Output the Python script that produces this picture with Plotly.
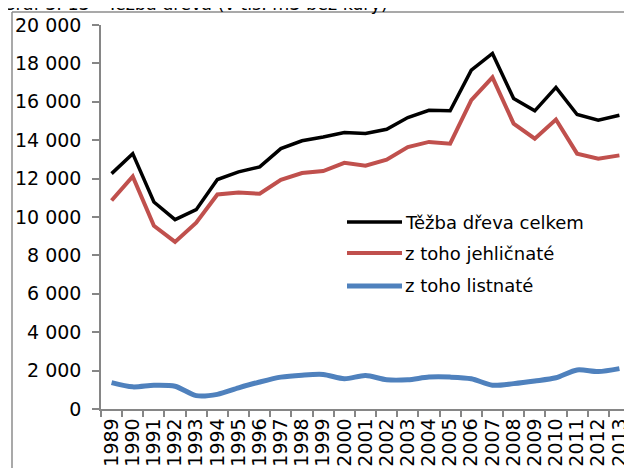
import plotly.graph_objects as go

years = ["1989", "1990", "1991", "1992", "1993", "1994", "1995", "1996", "1997",
         "1998", "1999", "2000", "2001", "2002", "2003", "2004", "2005", "2006",
         "2007", "2008", "2009", "2010", "2011", "2012", "2013"]

total = [12260, 13300, 10780, 9860, 10380, 11950, 12350, 12610, 13560, 13970,
         14170, 14400, 14350, 14570, 15180, 15560, 15530, 17650, 18520, 16170,
         15530, 16750, 15340, 15040, 15300]
conifer = [10860, 12115, 9540, 8700, 9700, 11175, 11280, 11210, 11940, 12290,
           12395, 12820, 12670, 12985, 13645, 13910, 13820, 16085, 17270, 14865,
           14080, 15075, 13300, 13040, 13210]
broadleaf = [1373, 1153, 1237, 1186, 695, 763, 1102, 1407, 1661, 1763,
             1797, 1576, 1746, 1525, 1525, 1661, 1661, 1576, 1237, 1322,
             1458, 1627, 2034, 1949, 2102]

series_names = ["Těžba dřeva celkem", "z toho jehličnaté", "z toho listnaté"]
series_colors = ["#000000", "#C0504D", "#4F81BD"]

y_tick_vals = [0, 2000, 4000, 6000, 8000, 10000, 12000, 14000, 16000, 18000, 20000]
y_tick_text = ["0", "2 000", "4 000", "6 000", "8 000", "10 000", "12 000",
               "14 000", "16 000", "18 000", "20 000"]

title_text = "Graf 3. 13 - Těžba dřeva (v tis. m3 bez kůry)"

FONT = "DejaVu Sans"
AXIS_GRAY = "#868686"
FRAME_GRAY = "#8C8C8C"
OFF = 8  # page offset of the figure inside the browser window

fig = go.Figure()
fig.add_trace(go.Scatter(x=years, y=total, mode="lines", name=series_names[0],
                         line=dict(color=series_colors[0], width=3.5)))
fig.add_trace(go.Scatter(x=years, y=conifer, mode="lines", name=series_names[1],
                         line=dict(color=series_colors[1], width=4)))
fig.add_trace(go.Scatter(x=years, y=broadleaf, mode="lines", name=series_names[2],
                         line=dict(color=series_colors[2], width=5,
                                   shape="spline", smoothing=0.8)))

# figure / paper geometry (figure pixels)
W, H = 632, 468
L, R, T, B = 4, 0, 4, 0          # paper starts where the outer frame is
pw, ph = W - L - R, H - T - B
PLOT_X0, PLOT_X1 = 93, 622       # plot area in figure pixels
PLOT_Y0, PLOT_Y1 = 17, 401
x_domain = [(PLOT_X0 - L) / pw, (PLOT_X1 - L) / pw]
y_domain = [(H - B - PLOT_Y1) / ph, (H - B - PLOT_Y0) / ph]


def px_x(page_x):
    return (page_x - OFF - L) / pw


def px_y(page_y):
    return (H - B - (page_y - OFF)) / ph


fig.update_layout(
    width=W, height=H,
    margin=dict(l=L, r=R, t=T, b=B, pad=0),
    paper_bgcolor="white", plot_bgcolor="white",
    showlegend=False,
    font=dict(family=FONT, color="#000000"),
    xaxis=dict(type="category", range=[-0.5, len(years) - 0.5], domain=x_domain,
               tickmode="linear", dtick=1, automargin=False,
               tickson="boundaries", ticks="outside", ticklen=6,
               tickcolor=AXIS_GRAY, tickwidth=1.5,
               showline=True, linecolor=AXIS_GRAY, linewidth=1.5,
               showgrid=False, tickangle=-90,
               tickfont=dict(family=FONT, size=19, color="#000000")),
    yaxis=dict(range=[0, 20000], tickvals=y_tick_vals, ticktext=y_tick_text,
               domain=y_domain, automargin=False,
               ticks="outside", ticklen=7, tickcolor=AXIS_GRAY, tickwidth=1.5,
               showline=True, linecolor=AXIS_GRAY, linewidth=1.5,
               showgrid=False, zeroline=False, ticklabelstandoff=7,
               tickfont=dict(family=FONT, size=19, color="#000000")),
)

# outer frame: top and left edges of the paper (right/bottom fall outside the window)
frame = dict(color=FRAME_GRAY, width=1.5)
fig.add_shape(type="line", xref="paper", yref="paper", layer="above",
              x0=0, x1=1, y0=1, y1=1, line=frame)
fig.add_shape(type="line", xref="paper", yref="paper", layer="above",
              x0=0, x1=0, y0=0, y1=1, line=frame)

# cut-off title
fig.add_annotation(text=title_text, xref="paper", yref="paper",
                   x=px_x(0), y=px_y(16), xanchor="left", yanchor="bottom",
                   showarrow=False, font=dict(family=FONT, size=17.5, color="#000000"))

# legend (manual, inside plot)
leg_rows = [222, 253, 286]
leg_widths = [3.5, 4, 5]
for name, color, py, lw in zip(series_names, series_colors, leg_rows, leg_widths):
    fig.add_shape(type="line", xref="paper", yref="paper",
                  x0=px_x(347), x1=px_x(402), y0=px_y(py), y1=px_y(py),
                  line=dict(color=color, width=lw))
    fig.add_annotation(text=name, xref="paper", yref="paper",
                       x=px_x(403), y=px_y(py), xanchor="left", yanchor="middle",
                       showarrow=False,
                       font=dict(family=FONT, size=18, color="#000000"))

fig.write_html("out.html")
